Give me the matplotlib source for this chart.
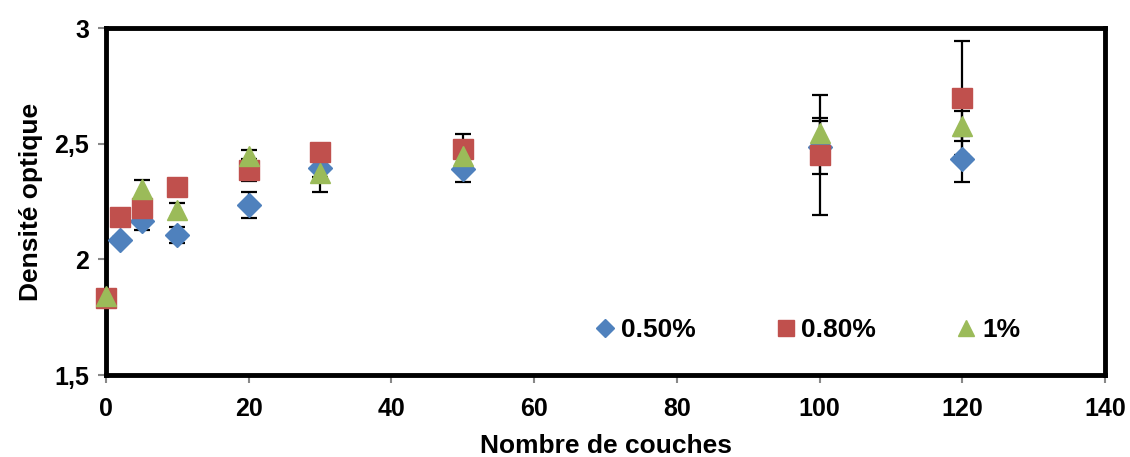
import numpy as np
import matplotlib.pyplot as plt
from matplotlib.ticker import FuncFormatter

plt.rcParams['font.family'] = ['Liberation Sans', 'DejaVu Sans']
plt.rcParams['font.weight'] = 'bold'

# Nombre de couches
couches = [0, 2, 5, 10, 20, 30, 50, 100, 120]

# Densité optique par concentration
do_050 = [np.nan, 2.085, 2.165, 2.105, 2.235, 2.395, 2.39, 2.485, 2.434]
do_080 = [1.833, 2.183, 2.222, 2.313, 2.386, 2.464, 2.477, 2.45, 2.697]
do_100 = [1.84, np.nan, 2.305, 2.215, 2.447, 2.373, 2.447, 2.546, 2.576]

# Ecarts-types
err_050 = [0.0, 0.01, 0.04, 0.035, 0.055, 0.04, 0.056, 0.115, 0.1]
err_080 = [0.0, 0.01, 0.02, 0.02, 0.047, 0.03, 0.065, 0.26, 0.246]
err_100 = [0.0, 0.0, 0.04, 0.03, 0.025, 0.08, 0.03, 0.065, 0.065]

labels = ['0.50%', '0.80%', '1%']
colors = ['#4F81BD', '#C0504D', '#9BBB59']
markers = ['D', 's', '^']
sizes = [12, 15, 15]

fig = plt.figure(figsize=(11.3, 4.57), dpi=100)
ax = fig.add_axes([0.0938, 0.1794, 0.8842, 0.7593])

series = [(do_050, err_050), (do_080, err_080), (do_100, err_100)]
for (y, e) in series:
    ax.errorbar(couches, y, yerr=e, fmt='none', ecolor='black',
                elinewidth=1.6, capsize=6, capthick=1.6, zorder=2)

for (y, e), lab, c, m, s in zip(series, labels, colors, markers, sizes):
    ax.plot(couches, y, linestyle='none', marker=m, markersize=s,
            markerfacecolor=c, markeredgecolor=c, label=lab, zorder=3,
            clip_on=False)

ax.set_xlim(0, 140)
ax.set_ylim(1.5, 3)
ax.set_xticks(np.arange(0, 141, 20))
ax.set_yticks([1.5, 2, 2.5, 3])
ax.yaxis.set_major_formatter(FuncFormatter(lambda v, p: f'{v:g}'.replace('.', ',')))
ax.tick_params(axis='both', labelsize=18, direction='out', length=6,
               width=1.5, color='#888888', pad=6)
ax.tick_params(axis='x', pad=10)

for sp in ax.spines.values():
    sp.set_linewidth(3.5)
    sp.set_color('black')

ax.set_xlabel('Nombre de couches', fontsize=19, fontweight='bold', labelpad=9)
ax.set_ylabel('Densité optique', fontsize=19, fontweight='bold', labelpad=8)

leg = ax.legend(loc='center', bbox_to_anchor=(0.702, 0.13), ncol=3,
                frameon=False, fontsize=19, markerscale=0.75,
                handlelength=0.8, handletextpad=0.2, columnspacing=3.0)

fig.savefig('out.png', dpi=100)
